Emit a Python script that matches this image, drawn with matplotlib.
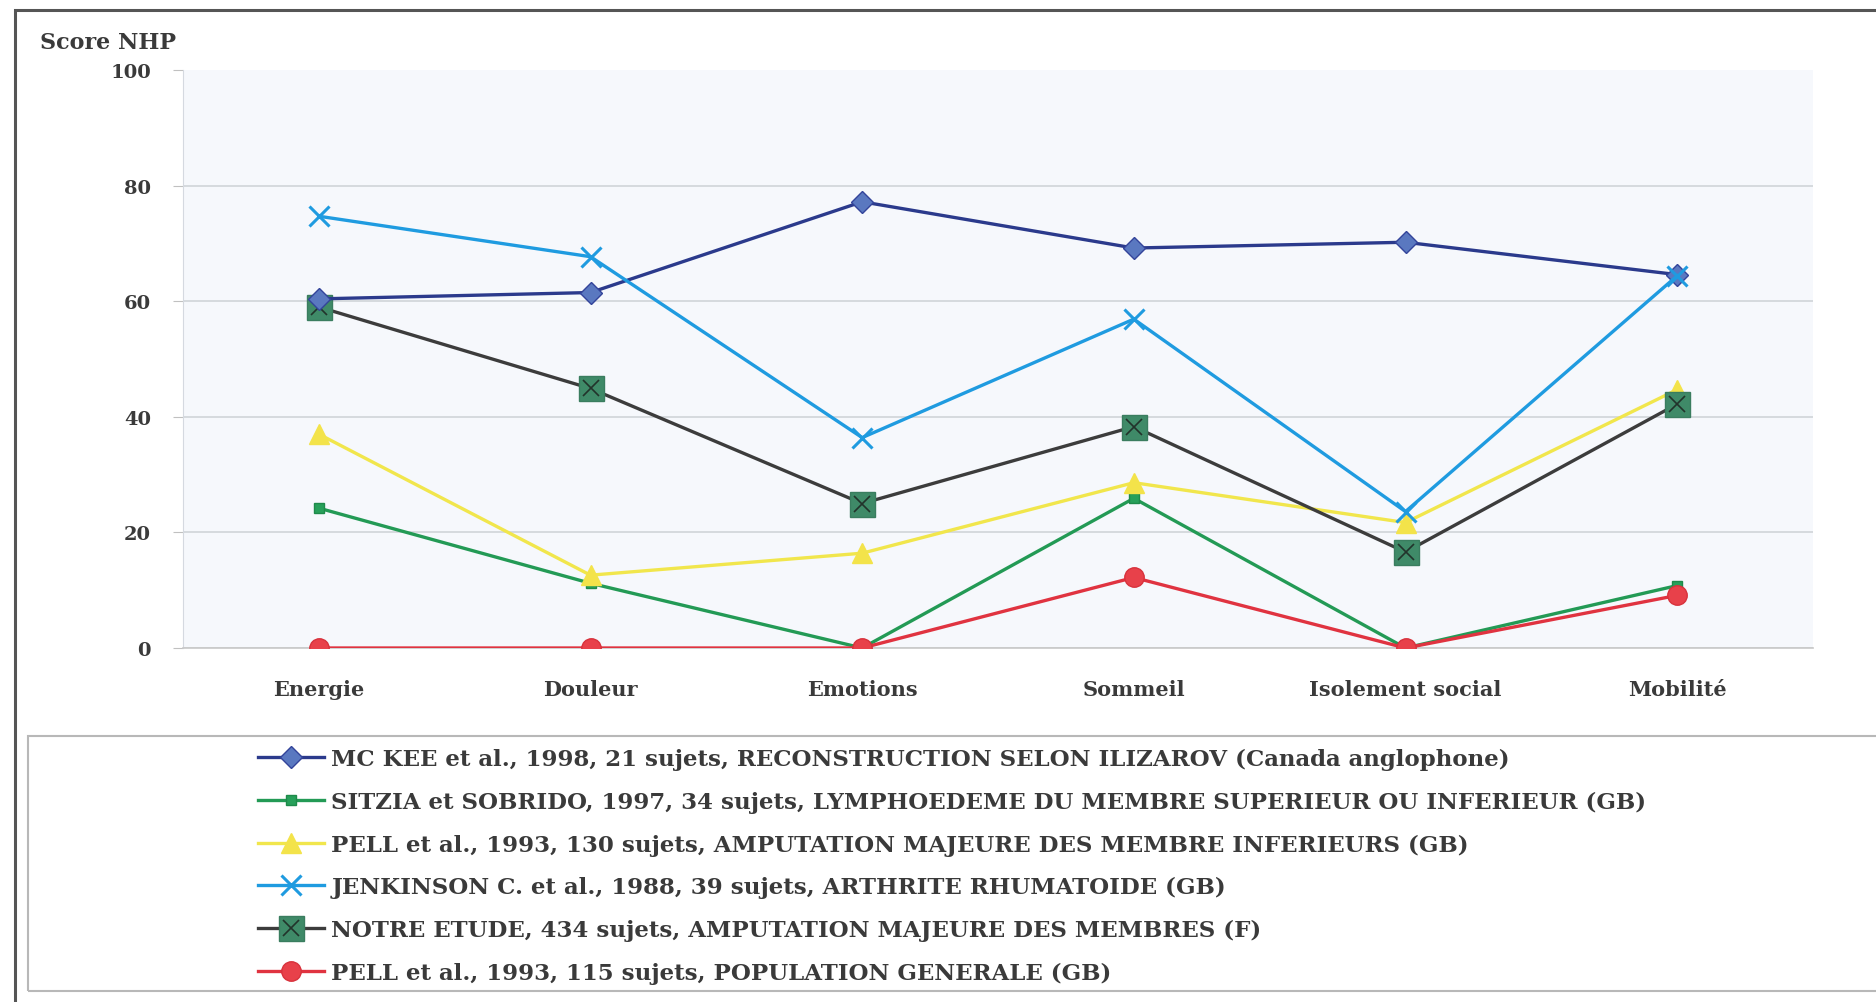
import matplotlib.pyplot as plt
from matplotlib.patches import Rectangle

# Data
categories = ['Energie', 'Douleur', 'Emotions', 'Sommeil', 'Isolement social', 'Mobilité']

mckee = [60.4, 61.5, 77.2, 69.2, 70.2, 64.6]
sitzia = [24.2, 11.2, 0.0, 25.9, 0.0, 10.8]
pell_amput = [37.0, 12.6, 16.4, 28.6, 21.7, 44.7]
jenkinson = [74.7, 67.7, 36.4, 56.9, 23.6, 64.4]
notre_etude = [59.0, 44.9, 25.0, 38.3, 16.6, 42.2]
pell_pop = [0.0, 0.0, 0.0, 12.2, 0.0, 9.1]

labels = [
    'MC KEE et al., 1998, 21 sujets, RECONSTRUCTION SELON ILIZAROV (Canada anglophone)',
    'SITZIA et SOBRIDO, 1997, 34 sujets, LYMPHOEDEME DU MEMBRE SUPERIEUR OU INFERIEUR (GB)',
    'PELL et al., 1993, 130 sujets, AMPUTATION MAJEURE DES MEMBRE INFERIEURS (GB)',
    'JENKINSON C. et al., 1988, 39 sujets, ARTHRITE RHUMATOIDE (GB)',
    'NOTRE ETUDE, 434 sujets, AMPUTATION MAJEURE DES MEMBRES (F)',
    'PELL et al., 1993, 115 sujets, POPULATION GENERALE (GB)',
]
yticks = [0, 20, 40, 60, 80, 100]

W, H = 1876, 1003
fig = plt.figure(figsize=(W / 100, H / 100), dpi=100)
font = dict(family='DejaVu Serif', weight='bold')
txt_col = '#3a3a3a'

# axes placed in pixel terms
left, right, top, bottom = 183, 1813, 71, 649
ax = fig.add_axes([left / W, 1 - bottom / H, (right - left) / W, (bottom - top) / H])
ax.set_facecolor('#f6f8fc')

x = range(len(categories))
lw = 2.4

h1, = ax.plot(x, mckee, color='#2b3a8c', lw=lw, marker='D', ms=11,
              mfc='#5a78c0', mec='#33449a', zorder=5)
h2, = ax.plot(x, sitzia, color='#239a55', lw=lw, marker='s', ms=7,
              mfc='#27a05a', mec='#1e8a4a', zorder=3)
h3, = ax.plot(x, pell_amput, color='#f1e64c', lw=lw, marker='^', ms=14,
              mfc='#f3e34a', mec='#f3e34a', zorder=4)
h4, = ax.plot(x, jenkinson, color='#1f9be0', lw=lw, marker='x', ms=15,
              mew=2.2, zorder=6)
h5, = ax.plot(x, notre_etude, color='#3c3c3c', lw=lw, marker='s', ms=18,
              mfc='#3f8a68', mec='#3a7d5f', zorder=4)
h5x, = ax.plot(x, notre_etude, ls='none', marker='x', ms=11, mew=1.2,
               color='#22332b', zorder=4.5)
h6, = ax.plot(x, pell_pop, color='#e03340', lw=lw, marker='o', ms=14,
              mfc='#e8414a', mec='#d8323c', zorder=4)

ax.set_xlim(-0.5, len(categories) - 0.5)
ax.set_ylim(0, 100)
ax.set_yticks(yticks)
ax.set_yticklabels([str(v) for v in yticks], fontsize=14, color=txt_col, **font)
ax.set_xticks(list(x))
ax.set_xticklabels(categories, fontsize=15, color=txt_col, **font)
ax.tick_params(axis='x', length=0, pad=22)
ax.tick_params(axis='y', length=7, color='#c0c0c0', pad=16)

ax.grid(axis='y', color='#d0d4d8', lw=1.2)
ax.get_ygridlines()[-1].set_visible(False)
ax.set_axisbelow(True)
for side in ['top', 'right']:
    ax.spines[side].set_visible(False)
ax.spines['left'].set_color('#d5d9e0')
ax.spines['bottom'].set_color('#c8c8c8')
ax.spines['bottom'].set_linewidth(1.2)

fig.text(40 / W, 1 - 43 / H, 'Score NHP', fontsize=16, color=txt_col, va='center', **font)

# outer frame and legend box
fig.add_artist(Rectangle((15 / W, -0.05), 1.1, 1 - 11 / H + 0.05, transform=fig.transFigure,
                         fill=False, ec='#555555', lw=2.2))
fig.add_artist(Rectangle((28 / W, 1 - 992 / H), 1.1, (992 - 737) / H, transform=fig.transFigure,
                         fill=False, ec='#b8b8b8', lw=1.5))

handles = [h1, h2, h3, h4, (h5, h5x), h6]
leg = fig.legend(handles, labels, loc='upper left', bbox_to_anchor=(258 / W, 1 - 749 / H),
                 frameon=False, borderpad=0, borderaxespad=0,
                 handlelength=2.9, handletextpad=0.3, labelspacing=0.9,
                 prop=dict(family='DejaVu Serif', weight='bold', size=16.5))
for t in leg.get_texts():
    t.set_color(txt_col)

fig.savefig('out.png', dpi=100)
